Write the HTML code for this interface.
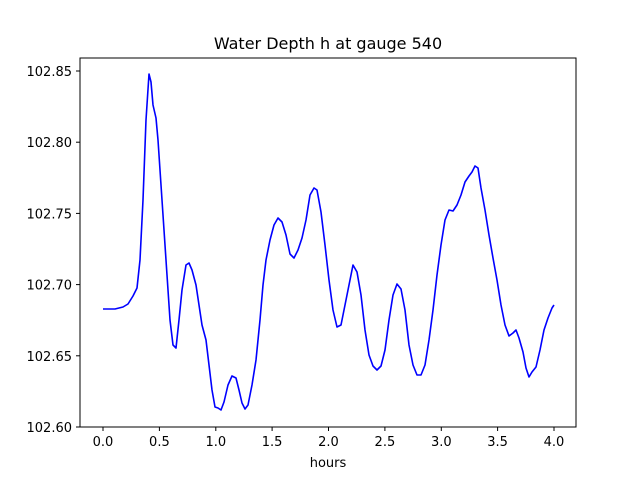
<!DOCTYPE html>
<html><head><style>body{margin:0;background:#fff}svg{display:block}text{font-family:"DejaVu Sans","Liberation Sans",sans-serif;font-size:13px;fill:#000}</style></head>
<body>
<svg width="640" height="480" viewBox="0 0 640 480">
<rect x="80" y="58" width="496" height="369" fill="#fff" stroke="#000" stroke-width="1"/>
<text x="328" y="49" text-anchor="middle" style="font-size:16px">Water Depth h at gauge 540</text>
<g stroke="#000" stroke-width="1">
<line x1="103" y1="427" x2="103" y2="431"/><line x1="159.4" y1="427" x2="159.4" y2="431"/><line x1="215.8" y1="427" x2="215.8" y2="431"/><line x1="272.1" y1="427" x2="272.1" y2="431"/><line x1="328.5" y1="427" x2="328.5" y2="431"/><line x1="384.9" y1="427" x2="384.9" y2="431"/><line x1="441.3" y1="427" x2="441.3" y2="431"/><line x1="497.6" y1="427" x2="497.6" y2="431"/><line x1="554" y1="427" x2="554" y2="431"/>
<line x1="76" y1="427" x2="80" y2="427"/><line x1="76" y1="355.8" x2="80" y2="355.8"/><line x1="76" y1="284.6" x2="80" y2="284.6"/><line x1="76" y1="213.4" x2="80" y2="213.4"/><line x1="76" y1="142.2" x2="80" y2="142.2"/><line x1="76" y1="71" x2="80" y2="71"/>
</g>
<g text-anchor="middle">
<text x="103" y="446">0.0</text><text x="159.4" y="446">0.5</text><text x="215.8" y="446">1.0</text><text x="272.1" y="446">1.5</text><text x="328.5" y="446">2.0</text><text x="384.9" y="446">2.5</text><text x="441.3" y="446">3.0</text><text x="497.6" y="446">3.5</text><text x="554" y="446">4.0</text>
<text x="328" y="467">hours</text>
</g>
<g text-anchor="end">
<text x="72" y="432">102.60</text><text x="72" y="360.8">102.65</text><text x="72" y="289.6">102.70</text><text x="72" y="218.4">102.75</text><text x="72" y="147.2">102.80</text><text x="72" y="76">102.85</text>
</g>
<polyline fill="none" stroke="#0000ff" stroke-width="1.6" stroke-linejoin="round" points="103,309 115,309 123,307 128,304 133,296 137,288 140,260 143,200 146,120 149,74 151,82 153,105 156,118 158,140 161,185 164,230 167,275 170,320 173,345 176,348 179,320 182,290 186,265 189,263 192,270 196,285 199,305 202,325 206,340 209,365 212,390 215,407 218,408 221,410 224,402 228,385 232,376 236,378 239,390 242,403 245,409 248,405 252,385 256,360 260,320 263,285 266,260 270,240 274,225 278,218 282,222 286,235 290,254 294,258 298,250 302,238 306,220 310,195 314,188 317,190 321,212 325,245 329,280 333,310 337,327 341,325 345,305 349,285 353,265 357,272 361,295 365,330 369,355 373,366 377,370 381,366 385,350 389,320 393,295 397,284 401,289 405,310 409,345 413,365 417,375 421,375 425,365 429,340 433,310 437,275 441,245 445,220 449,210 453,211 457,205 461,195 465,182 469,176 472,172 475,166 478,168 481,188 485,210 489,235 493,258 497,280 501,305 505,325 509,336 513,333 516,330 519,338 523,352 526,368 529,377 532,372 536,367 540,350 544,330 548,318 552,308 554,305"/>
</svg>
</body></html>
